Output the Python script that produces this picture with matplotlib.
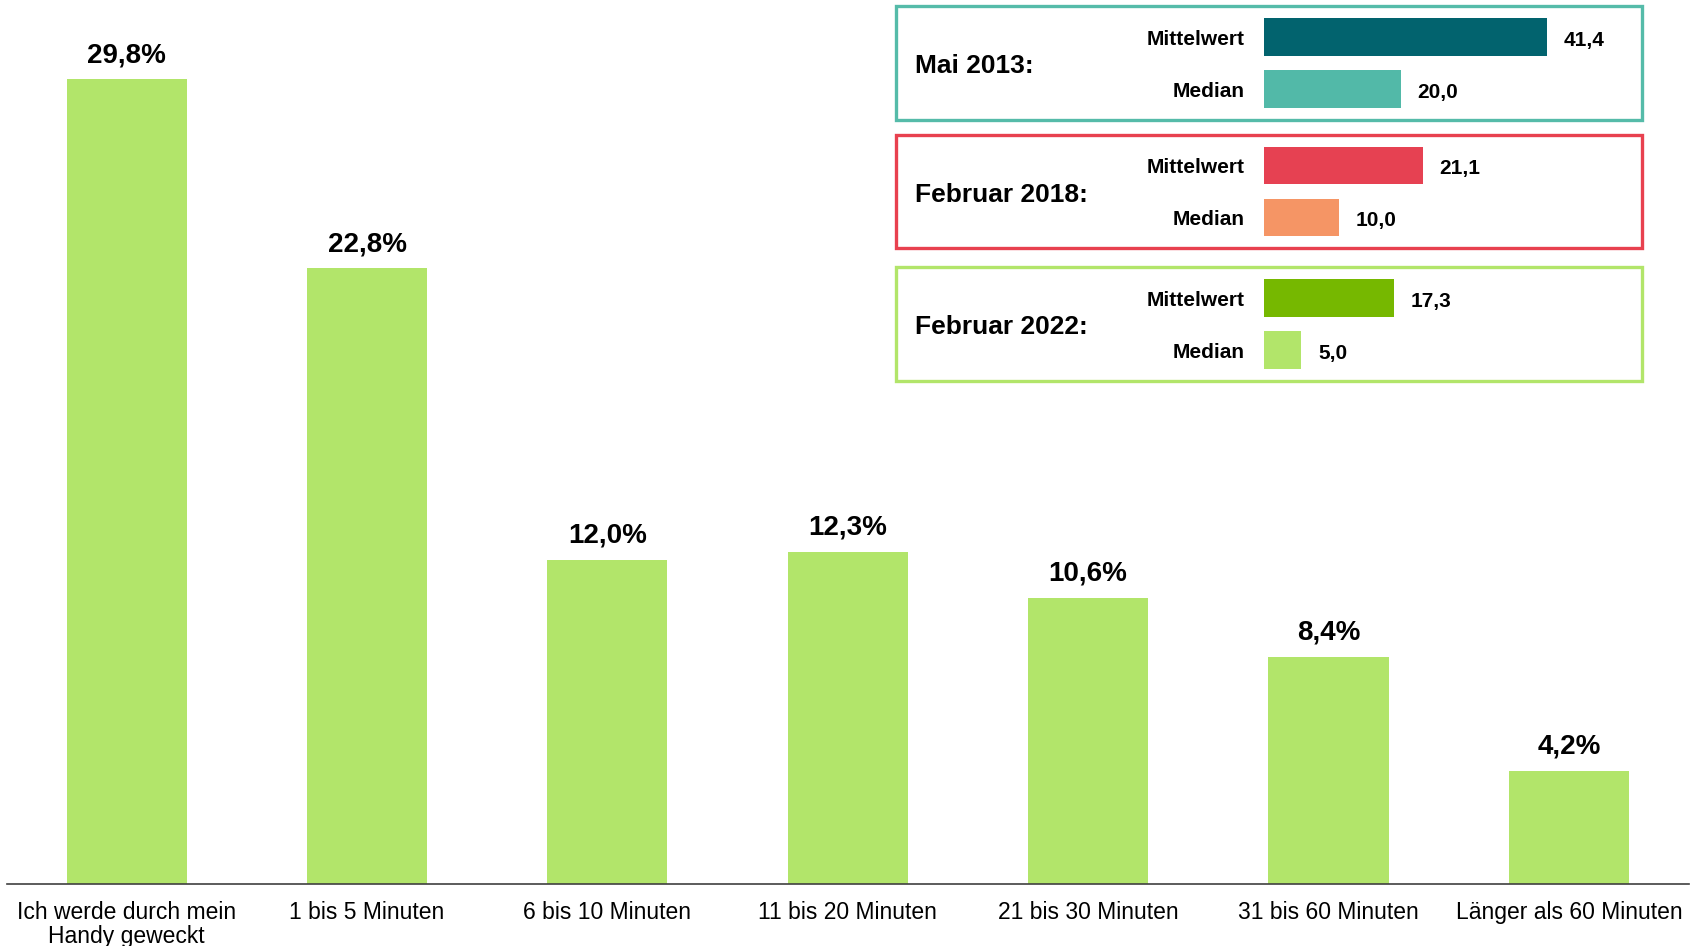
import matplotlib
matplotlib.use("Agg")
import matplotlib.pyplot as plt
from matplotlib.patches import Rectangle

plt.rcParams['font.family'] = ['Liberation Sans', 'DejaVu Sans']

# ---- data ----
categories = ["Ich werde durch mein\nHandy geweckt", "1 bis 5 Minuten", "6 bis 10 Minuten",
              "11 bis 20 Minuten", "21 bis 30 Minuten", "31 bis 60 Minuten",
              "Länger als 60 Minuten"]
values = [29.8, 22.8, 12.0, 12.3, 10.6, 8.4, 4.2]

inset_titles = ["Mai 2013:", "Februar 2018:", "Februar 2022:"]
inset_mean = [41.4, 21.1, 17.3]
inset_median = [20.0, 10.0, 5.0]
stat_labels = ["Mittelwert", "Median"]

# ---- styles ----
bar_color = "#B2E56A"
box_colors = ["#55BBA9", "#E8414F", "#B2E56A"]
mean_colors = ["#02636E", "#E64152", "#76B800"]
median_colors = ["#52B9A8", "#F59565", "#B2E56A"]
inset_xmax = [55, 50, 50]

W, H = 1696, 946
fig = plt.figure(figsize=(W / 100, H / 100), dpi=100)

def fx(px):
    return px / W

def fy(py):
    return 1 - py / H

# main axes
ax = fig.add_axes([fx(6.5), fy(884), fx(1689 - 6.5), (884) / H])
x = range(len(values))
ax.bar(x, values, width=0.5, color=bar_color)
ax.set_xlim(-0.5, len(values) - 0.5)
ax.set_ylim(0, 884 / 27.0)
for s in ["top", "left", "right"]:
    ax.spines[s].set_visible(False)
ax.spines["bottom"].set_color("#404040")
ax.spines["bottom"].set_linewidth(1.2)
ax.set_yticks([])
ax.set_xticks(list(x))
ax.set_xticklabels(categories, fontsize=16.5, linespacing=1.08)
ax.tick_params(axis="x", length=0, pad=12)
for i, v in enumerate(values):
    ax.annotate(f"{v:.1f}".replace(".", ",") + "%", (i, v), xytext=(0, 12.5),
                textcoords="offset points", ha="center", va="baseline",
                fontsize=20, fontweight="bold")

# insets
boxes = [(6.5, 120), (135, 248), (267, 381)]
bx0, bx1 = 895.6, 1642
bar_start = 1263.8
for k, (y0, y1) in enumerate(boxes):
    rect = Rectangle((fx(bx0), fy(y1)), fx(bx1 - bx0), (y1 - y0) / H,
                     transform=fig.transFigure, fill=False,
                     edgecolor=box_colors[k], linewidth=2.4)
    fig.add_artist(rect)
    fig.text(fx(915), fy((y0 + y1) / 2 + 3), inset_titles[k], ha="left", va="center",
             fontsize=19, fontweight="bold")
    iax = fig.add_axes([fx(bar_start), fy(y1 - 2), fx(bx1 - bar_start - 2), (y1 - y0 - 4) / H])
    iax.set_axis_off()
    vals = [inset_mean[k], inset_median[k]]
    cols = [mean_colors[k], median_colors[k]]
    iax.barh([0, 1], vals, height=0.73, color=cols)
    iax.set_xlim(0, inset_xmax[k])
    span = (y1 - y0 - 4) / 52.0
    iax.set_ylim(0.5 + span / 2, 0.5 - span / 2)
    for j, v in enumerate(vals):
        iax.annotate(stat_labels[j], (0, j), xytext=(-14, -1.5), textcoords="offset points",
                     ha="right", va="center", fontsize=15, fontweight="bold")
        iax.annotate(f"{v:.1f}".replace(".", ","), (v, j), xytext=(12, -2.5),
                     textcoords="offset points", ha="left", va="center",
                     fontsize=15, fontweight="bold")

fig.savefig("out.png", dpi=100)
